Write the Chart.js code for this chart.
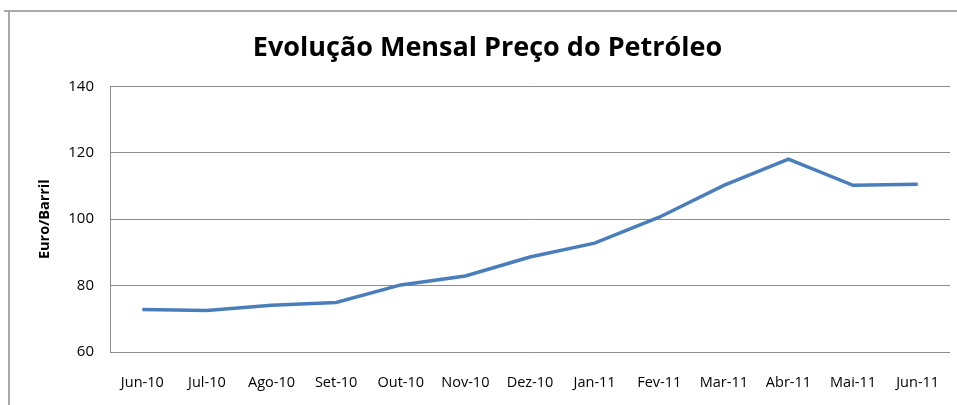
<!DOCTYPE html>
<html>
<head>
<meta charset="utf-8">
<script src="https://cdn.jsdelivr.net/npm/chart.js@4/dist/chart.umd.min.js"></script>
<style>
  html, body { margin: 0; padding: 0; background: #fff; }
  #wrap { position: relative; width: 957px; height: 405px; }
</style>
</head>
<body>
<div id="wrap"><canvas id="chart" width="957" height="405"></canvas></div>
<script>
// Chart data
const months = ['Jun-10', 'Jul-10', 'Ago-10', 'Set-10', 'Out-10', 'Nov-10', 'Dez-10',
                'Jan-11', 'Fev-11', 'Mar-11', 'Abr-11', 'Mai-11', 'Jun-11'];
const prices = [72.8, 72.5, 74.1, 74.9, 80.2, 82.9, 88.6, 92.8, 100.6, 110.2, 118.1, 110.2, 110.5];
const yTicks = [60, 80, 100, 120, 140];

// Excel-style outer frame (top and left edges only)
const framePlugin = {
    id: 'frame',
    beforeDraw(chart) {
        const ctx = chart.ctx;
        ctx.save();
        ctx.fillStyle = '#fff';
        ctx.fillRect(0, 0, chart.width, chart.height);
        ctx.strokeStyle = '#a9a9a9';
        ctx.lineWidth = 2;
        ctx.beginPath();
        ctx.moveTo(4, 11);
        ctx.lineTo(chart.width, 11);
        ctx.moveTo(9, 11);
        ctx.lineTo(9, chart.height);
        ctx.stroke();
        ctx.restore();
    }
};

const ctx = document.getElementById('chart').getContext('2d');
new Chart(ctx, {
    type: 'line',
    data: {
        labels: months,
        datasets: [{
            data: prices,
            borderColor: '#4a7ebb',
            borderWidth: 3.5,
            pointRadius: 0,
            tension: 0,
            fill: false
        }]
    },
    options: {
        responsive: false,
        animation: false,
        layout: { padding: { left: 25, right: 7, top: 0, bottom: 0 } },
        plugins: {
            legend: { display: false },
            tooltip: { enabled: false },
            title: {
                display: true,
                text: 'Evolução Mensal Preço do Petróleo',
                color: '#000',
                font: { family: 'Open Sans', size: 27, weight: 'bold' },
                padding: { top: 32, bottom: 22 }
            }
        },
        scales: {
            x: {
                offset: true,
                grid: { display: false },
                border: { display: false },
                ticks: {
                    color: '#000',
                    font: { family: 'Open Sans', size: 14.5 },
                    padding: 14,
                    maxRotation: 0,
                    autoSkip: false
                },
                afterFit(scale) { scale.height = 53; }
            },
            y: {
                min: 60,
                max: 140,
                afterBuildTicks(scale) {
                    scale.ticks = yTicks.map(v => ({ value: v }));
                },
                grid: { color: '#8c8c8c', lineWidth: 1, drawTicks: false },
                border: { display: true, color: '#8c8c8c', width: 1 },
                ticks: {
                    color: '#000',
                    font: { family: 'Open Sans', size: 15 },
                    padding: 16
                },
                title: {
                    display: true,
                    text: 'Euro/Barril',
                    color: '#000',
                    font: { family: 'Open Sans', size: 14.5, weight: 'bold' },
                    padding: { top: 11, bottom: 0 }
                },
                afterFit(scale) { scale.width = 85; }
            }
        }
    },
    plugins: [framePlugin]
});
</script>
</body>
</html>
